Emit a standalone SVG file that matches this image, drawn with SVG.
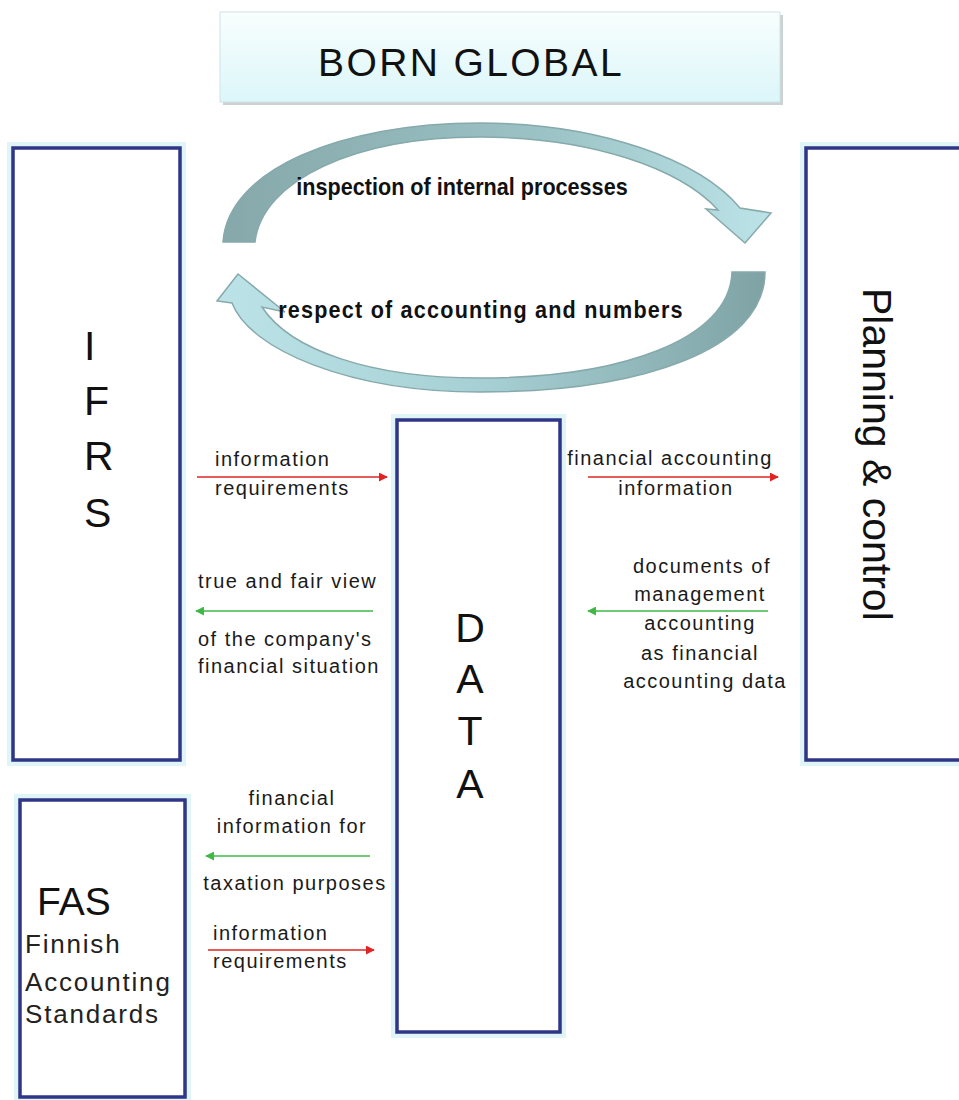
<svg xmlns="http://www.w3.org/2000/svg" width="959" height="1100" viewBox="0 0 959 1100">
<style>
.box{fill:#ffffff;stroke:#2f3587;stroke-width:3.5}
.glow{fill:none;stroke:#e0f5f8;stroke-width:12}
.big{font-family:"Liberation Sans",Arial,sans-serif;font-size:41px;fill:#111}
.lbl{font-family:"Liberation Sans",Arial,sans-serif;font-size:20px;letter-spacing:1.5px;fill:#1a1a1a}
.bold{font-family:"Liberation Sans",Arial,sans-serif;font-size:23.5px;font-weight:bold;fill:#111}
.red{stroke:#e02424;stroke-width:1.6;fill:none}
.green{stroke:#3fb848;stroke-width:1.6;fill:none}
.arc{stroke:#86a9ab;stroke-width:1.5}
</style>
<defs>
<linearGradient id="bg" x1="0" y1="0" x2="0" y2="1">
<stop offset="0" stop-color="#f9fefe"/>
<stop offset="1" stop-color="#dbf6f9"/>
</linearGradient>
<linearGradient id="gTop" x1="0" y1="0" x2="1" y2="0">
<stop offset="0" stop-color="#86a8aa"/>
<stop offset="0.6" stop-color="#9cc3c6"/>
<stop offset="1" stop-color="#bce4e8"/>
</linearGradient>
<linearGradient id="gBot" x1="0" y1="0" x2="1" y2="0">
<stop offset="0" stop-color="#bce4e8"/>
<stop offset="0.5" stop-color="#a6cfd3"/>
<stop offset="1" stop-color="#7fa3a5"/>
</linearGradient>
<marker id="mr" viewBox="0 0 10 10" refX="9" refY="5" markerWidth="9" markerHeight="9" orient="auto" markerUnits="userSpaceOnUse">
<path d="M0,0 L10,5 L0,10 Z" fill="#e02424"/>
</marker>
<marker id="mg" viewBox="0 0 10 10" refX="9" refY="5" markerWidth="9" markerHeight="9" orient="auto" markerUnits="userSpaceOnUse">
<path d="M0,0 L10,5 L0,10 Z" fill="#3fb848"/>
</marker>
</defs>
<rect width="959" height="1100" fill="#ffffff"/>

<g id="born-global">
<rect x="223" y="15" width="560" height="90" fill="#b7bfc0" opacity="0.7"/>
<rect x="220" y="12" width="560" height="90" fill="url(#bg)" stroke="#cfe3e4" stroke-width="1"/>
<text x="318" y="76" style="font-family:'Liberation Sans',Arial,sans-serif;font-size:39px;letter-spacing:2.4px;fill:#111">BORN GLOBAL</text>
</g>

<g id="cycle">
<path class="arc" fill="url(#gTop)" d="M223,242 C228,170 340,123 480,123 C600,123 700,160 740,208 L771,213 L745,243 L706,209 L718,210 C680,168 590,137 480,137 C355,137 262,180 255,242 Z"/>
<path class="arc" fill="url(#gBot)" d="M765,272 C765,350 640,392 480,392 C350,392 250,350 232,303 L217,301 L238,274 L285,312 L262,307 C290,350 370,378 480,378 C620,378 730,340 732,272 Z"/>
<text class="bold" transform="translate(462,195) scale(0.92,1)" text-anchor="middle">inspection of internal processes</text>
<text class="bold" transform="translate(481,318) scale(0.92,1)" text-anchor="middle" style="letter-spacing:1.3px">respect of accounting  and numbers</text>
</g>

<g id="ifrs">
<rect class="glow" x="13" y="148" width="167" height="612"/>
<rect class="box" x="13" y="148" width="167" height="612"/>
<text class="big" x="84" y="360">I</text>
<text class="big" x="84" y="415">F</text>
<text class="big" x="84" y="470">R</text>
<text class="big" x="84" y="527">S</text>
</g>

<g id="planning">
<rect class="glow" x="806" y="148" width="170" height="612"/>
<rect class="box" x="806" y="148" width="170" height="612"/>
<text class="big" transform="translate(863,288) rotate(90)">Planning &amp; control</text>
</g>

<g id="data">
<rect class="glow" x="397" y="420" width="163" height="612"/>
<rect class="box" x="397" y="420" width="163" height="612"/>
<text class="big" x="470" y="642" text-anchor="middle">D</text>
<text class="big" x="470" y="693" text-anchor="middle">A</text>
<text class="big" x="470" y="745" text-anchor="middle">T</text>
<text class="big" x="470" y="798" text-anchor="middle">A</text>
</g>

<g id="fas">
<rect class="glow" x="20" y="800" width="165" height="297"/>
<rect class="box" x="20" y="800" width="165" height="297"/>
<text x="37" y="915" style="font-family:'Liberation Sans',Arial,sans-serif;font-size:39px;fill:#111">FAS</text>
<text x="25" y="953" style="font-family:'Liberation Sans',Arial,sans-serif;font-size:26px;letter-spacing:1.8px;fill:#222">Finnish</text>
<text x="25" y="991" style="font-family:'Liberation Sans',Arial,sans-serif;font-size:26px;letter-spacing:1.8px;fill:#222">Accounting</text>
<text x="25" y="1023" style="font-family:'Liberation Sans',Arial,sans-serif;font-size:26px;letter-spacing:1.8px;fill:#222">Standards</text>
</g>

<g id="connectors">
<line class="red" x1="197" y1="477" x2="387" y2="477" marker-end="url(#mr)"/>
<line class="red" x1="588" y1="477" x2="778" y2="477" marker-end="url(#mr)"/>
<line class="green" x1="373" y1="611" x2="196" y2="611" marker-end="url(#mg)"/>
<line class="green" x1="768" y1="611" x2="588" y2="611" marker-end="url(#mg)"/>
<line class="green" x1="370" y1="856" x2="206" y2="856" marker-end="url(#mg)"/>
<line class="red" x1="208" y1="950" x2="374" y2="950" marker-end="url(#mr)"/>
</g>

<g id="labels">
<text class="lbl" x="215" y="466">information</text>
<text class="lbl" x="215" y="495">requirements</text>
<text class="lbl" x="670" y="465" text-anchor="middle">financial accounting</text>
<text class="lbl" x="676" y="495" text-anchor="middle">information</text>
<text class="lbl" x="198" y="588">true and fair view</text>
<text class="lbl" x="198" y="646">of the company's</text>
<text class="lbl" x="198" y="673">financial situation</text>
<text class="lbl" x="702" y="573" text-anchor="middle">documents of</text>
<text class="lbl" x="700" y="601" text-anchor="middle">management</text>
<text class="lbl" x="700" y="630" text-anchor="middle">accounting</text>
<text class="lbl" x="700" y="660" text-anchor="middle">as financial</text>
<text class="lbl" x="705" y="688" text-anchor="middle">accounting data</text>
<text class="lbl" x="292" y="805" text-anchor="middle">financial</text>
<text class="lbl" x="292" y="833" text-anchor="middle">information for</text>
<text class="lbl" x="295" y="890" text-anchor="middle">taxation purposes</text>
<text class="lbl" x="213" y="940">information</text>
<text class="lbl" x="213" y="968">requirements</text>
</g>
</svg>
